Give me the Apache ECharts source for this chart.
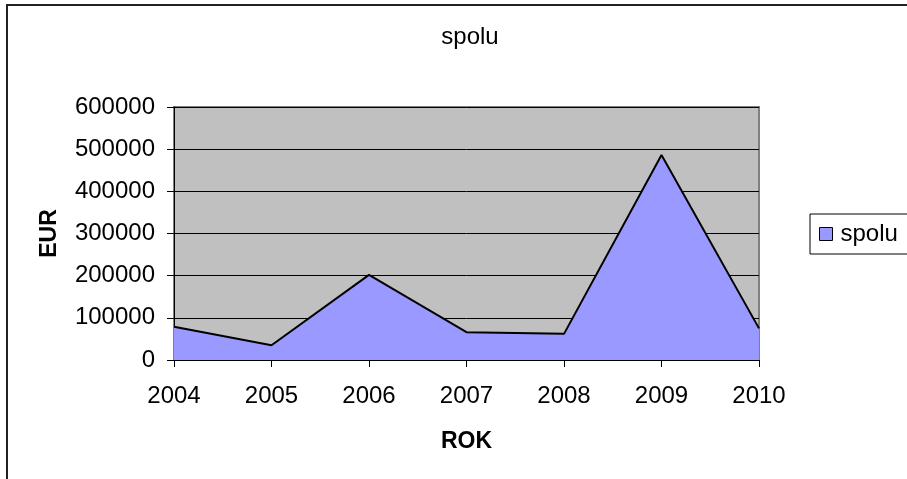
<!DOCTYPE html>
<html>
<head>
<meta charset="utf-8">
<script src="https://cdn.jsdelivr.net/npm/echarts@6/dist/echarts.min.js"></script>
<style>
  html, body { margin: 0; padding: 0; background: #fff; }
  #chart { width: 907px; height: 479px; }
</style>
</head>
<body>
<div id="chart"></div>
<script>
// data
const years = ['2004', '2005', '2006', '2007', '2008', '2009', '2010'];
const spolu = [79000, 35000, 202000, 66000, 62000, 486000, 75000];

const font = "'Liberation Sans', Arial, sans-serif";

const chart = echarts.init(document.getElementById('chart'));

chart.setOption({
  animation: false,
  backgroundColor: '#fff',
  title: {
    text: 'spolu',
    left: 465,
    textAlign: 'center',
    top: 20,
    textStyle: { fontFamily: font, fontSize: 24, fontWeight: 'normal', color: '#000' }
  },
  graphic: [
    {
      type: 'rect',
      shape: { x: 7, y: 5, width: 1000, height: 1000 },
      style: { fill: 'none', stroke: '#222', lineWidth: 2 },
      z: -1
    }
  ],
  legend: {
    data: ['spolu'],
    left: 810,
    top: 214,
    orient: 'vertical',
    padding: [8, 20, 8, 9],
    borderColor: '#000',
    borderWidth: 1,
    itemWidth: 13,
    itemHeight: 13,
    icon: 'rect',
    itemStyle: { borderColor: '#000', borderWidth: 1 },
    textStyle: { fontFamily: font, fontSize: 24, color: '#000', padding: [0, 0, 0, 3] }
  },
  grid: {
    left: 174,
    right: 148,
    top: 107,
    bottom: 119,
    show: true,
    backgroundColor: '#c0c0c0',
    borderColor: '#808080',
    borderWidth: 2
  },
  xAxis: {
    type: 'category',
    data: years,
    boundaryGap: false,
    name: 'ROK',
    nameLocation: 'middle',
    nameGap: 70,
    nameTextStyle: { fontFamily: font, fontSize: 23, fontWeight: 'bold', color: '#000' },
    axisLine: { lineStyle: { color: '#000', width: 1 } },
    axisTick: { show: true, length: 7, lineStyle: { color: '#000' } },
    axisLabel: { fontFamily: font, fontSize: 24, color: '#000', margin: 24 },
    splitLine: { show: false }
  },
  yAxis: {
    type: 'value',
    min: 0,
    max: 600000,
    interval: 100000,
    name: 'EUR',
    nameLocation: 'middle',
    nameGap: 113,
    nameTextStyle: { fontFamily: font, fontSize: 23, fontWeight: 'bold', color: '#000' },
    axisLine: { show: true, lineStyle: { color: '#000', width: 1 } },
    axisTick: { show: true, length: 7, lineStyle: { color: '#000' } },
    axisLabel: { fontFamily: font, fontSize: 24, color: '#000', margin: 19, formatter: v => String(v) },
    splitLine: { show: true, lineStyle: { color: '#000', width: 1 } }
  },
  series: [
    {
      name: 'spolu',
      type: 'line',
      data: spolu,
      symbol: 'none',
      lineStyle: { color: '#000', width: 2 },
      itemStyle: { color: '#9999ff', borderColor: '#000', borderWidth: 1 },
      areaStyle: { color: '#9999ff', opacity: 1 }
    }
  ]
});
</script>
</body>
</html>
